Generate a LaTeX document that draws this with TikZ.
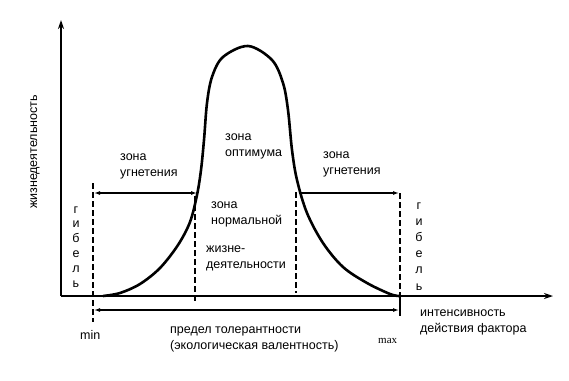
\documentclass[tikz,border=0pt]{standalone}
\usepackage{fontspec}
\setmainfont{Liberation Sans}
\newfontfamily\maxfont{Liberation Serif}
\usetikzlibrary{arrows.meta}
\begin{document}
\begin{tikzpicture}[x=1pt,y=-1pt,
  lbl/.style={inner sep=0pt,anchor=base west,align=left,font=\fontsize{12.5}{16}\selectfont},
  axis/.style={line width=1.6pt,-{Stealth[length=9pt,width=6pt]}},
  dsh/.style={line width=1.6pt,dash pattern=on 6pt off 3pt},
  arr/.style={line width=1.1pt,-{Latex[length=6pt,width=4pt]}},
  darr/.style={line width=1.1pt,{Latex[length=6pt,width=4pt]}-{Latex[length=6pt,width=4pt]}},
  curve/.style={line width=2.6pt,line join=round}]
\useasboundingbox (0,0) rectangle (569,380);
% axes
\coordinate (O) at (61,296);
\coordinate (Ytop) at (61,20);
\coordinate (Xend) at (553,296);
\draw[axis] (O) -- (Ytop);
\draw[axis] (O) -- (Xend);
% curve
\draw[curve] plot[smooth,tension=0.55] coordinates {
 (103,296) (120,293) (140,284) (160,268) (178,245) (190,222) (197,195) (201,170) (204,140)
 (207,103) (212,77) (223,57) (248,46) (272,60) (283,83) (288,110) (292,150)
 (297,180) (307,213) (323,243) (343,267) (367,283) (390,294) (399,296)};
% dashed lines
\coordinate (minT) at (93,183); \coordinate (minB) at (93,322);
\draw[dsh] (minT) -- (minB);
\coordinate (l2T) at (195,196); \coordinate (l2B) at (195,302);
\draw[dsh] (l2T) -- (l2B);
\coordinate (r2T) at (296,192); \coordinate (r2B) at (296,293);
\draw[dsh] (r2T) -- (r2B);
\coordinate (maxT) at (400,193); \coordinate (maxA) at (400,296); \coordinate (maxB) at (400,316);
\draw[dsh] (maxT) -- (maxA);
\draw[line width=1.6pt] (maxA) -- (maxB);
% arrows
\coordinate (a1) at (94,193); \coordinate (a2) at (197,193);
\draw[darr] (a1) -- (a2);
\coordinate (b1) at (299,193); \coordinate (b2) at (399,193);
\draw[arr] (b1) -- (b2);
\coordinate (c1) at (94,310); \coordinate (c2) at (399,310);
\draw[darr] (c1) -- (c2);
% labels
\node[lbl,rotate=90,anchor=center] (ylab) at (35,152) {жизнедеятельность};
\node[lbl] (zu1) at (120,176) {зона\\угнетения};
\node[lbl] (zo) at (225,156) {зона\\оптимума};
\node[lbl] (zu2) at (323,174) {зона\\угнетения};
\node[lbl] (zn) at (211,224) {зона\\нормальной};
\node[lbl] (zh) at (206,268) {жизне-\\деятельности};
\node[lbl,align=center,anchor=base,font=\fontsize{12.5}{14.8}\selectfont] (g1) at (76,287) {г\\и\\б\\е\\л\\ь};
\node[lbl,align=center,anchor=base,font=\fontsize{12.5}{16.2}\selectfont] (g2) at (419,290) {г\\и\\б\\е\\л\\ь};
\node[lbl] (min) at (80,339) {min};
\node[lbl,font=\maxfont\fontsize{11}{13}\selectfont] (max) at (378,343) {max};
\node[lbl] (pt) at (170,349) {предел толерантности\\(экологическая валентность)};
\node[lbl] (int) at (420,332) {интенсивность\\действия фактора};
\end{tikzpicture}
\end{document}
